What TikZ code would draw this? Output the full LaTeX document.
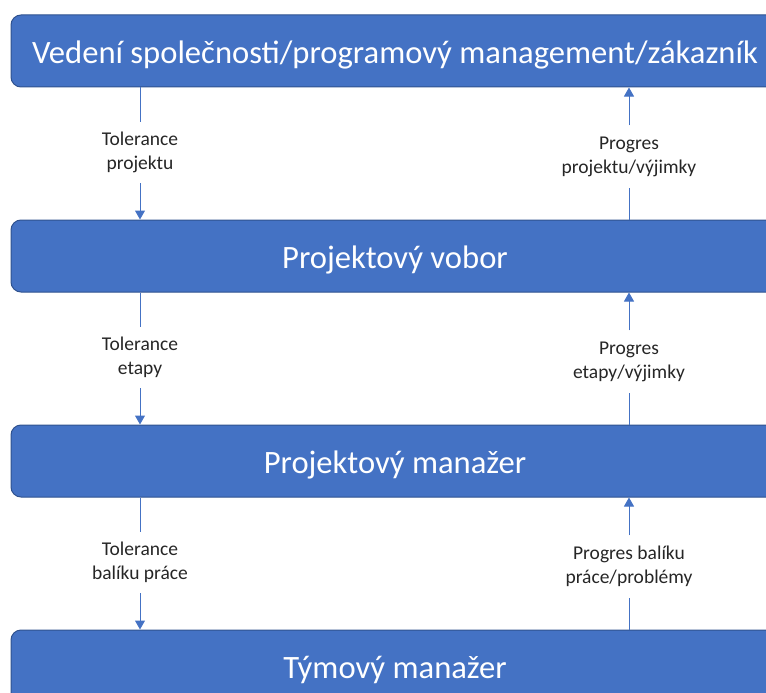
\documentclass[tikz,border=0pt]{standalone}
\usepackage{fontspec}
\setmainfont{Carlito}
\usetikzlibrary{arrows.meta}
\definecolor{boxblue}{HTML}{4472C4}
\definecolor{boxedge}{HTML}{2F528F}
\definecolor{labeltext}{HTML}{262626}
\begin{document}
\begin{tikzpicture}[x=1pt,y=-1pt,
  level/.style={draw=boxedge, line width=1pt, fill=boxblue, rounded corners=10pt,
    minimum width=768pt, minimum height=72pt, inner sep=0pt,
    text height=31pt, text depth=6pt,
    text=white, font=\fontsize{32.6}{38}\selectfont},
  flowlabel/.style={align=center, text=labeltext, inner sep=0pt,
    font=\fontsize{19.5}{24}\selectfont},
  flow/.style={draw=boxblue, line width=1pt},
  flowarrow/.style={flow, -{Triangle[width=10pt,length=9pt]}}]
\useasboundingbox (0,0) rectangle (766,693);
\begin{scope}
\clip (0,0) rectangle (766,693);
% hierarchy levels
\node[level] (l1) at (395,51)  {Vedení společnosti/programový management/zákazník};
\node[level] (l2) at (395,256) {Projektový vobor};
\node[level] (l3) at (395,461) {Projektový manažer};
\node[level] (l4) at (395,666) {Týmový manažer};
\end{scope}
% downward tolerances (left column)
\node[flowlabel, minimum height=61pt] (t1) at (140,152.5) {Tolerance\\projektu};
\node[flowlabel, minimum height=61pt] (t2) at (140,357.5) {Tolerance\\etapy};
\node[flowlabel, minimum height=61pt] (t3) at (140,562.5) {Tolerance\\balíku práce};
% upward progress reports (right column)
\node[flowlabel, minimum height=62pt] (p1) at (629,156.5) {Progres\\projektu/výjimky};
\node[flowlabel, minimum height=62pt] (p2) at (629,361.5) {Progres\\etapy/výjimky};
\node[flowlabel, minimum height=62pt] (p3) at (629,566.5) {Progres balíku\\práce/problémy};
\foreach \a/\t/\b in {l1/t1/l2, l2/t2/l3, l3/t3/l4} {
  \draw[flow] (\a.south -| \t) -- (\t.north);
  \draw[flowarrow] (\t.south) -- (\b.north -| \t);
}
\foreach \a/\p/\b in {l2/p1/l1, l3/p2/l2, l4/p3/l3} {
  \draw[flow] (\a.north -| \p) -- (\p.south);
  \draw[flowarrow] (\p.north) -- (\b.south -| \p);
}
\end{tikzpicture}
\end{document}
